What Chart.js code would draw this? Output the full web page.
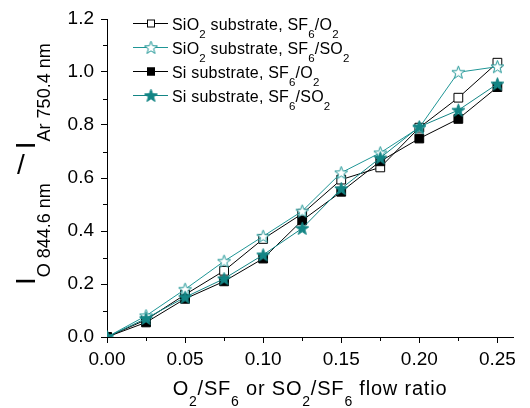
<!DOCTYPE html>
<html><head><meta charset="utf-8">
<script src="https://cdn.jsdelivr.net/npm/chart.js@4.4.1/dist/chart.umd.min.js"></script>
<style>html,body{margin:0;padding:0;background:#fff}canvas{display:block}</style>
</head><body>
<canvas id="c" width="530" height="408" style="width:530px;height:408px"></canvas>
<script>
// ---- data ----
const flowRatio = [0, 0.025, 0.05, 0.075, 0.1, 0.125, 0.15, 0.175, 0.2, 0.225, 0.25];
const sio2_SF6_O2  = [0, 0.065, 0.16, 0.25, 0.37, 0.465, 0.594, 0.64, 0.79, 0.903, 1.035];
const sio2_SF6_SO2 = [0, 0.08, 0.18, 0.286, 0.38, 0.475, 0.62, 0.695, 0.79, 0.999, 1.02];
const si_SF6_O2    = [0, 0.055, 0.144, 0.21, 0.296, 0.44, 0.548, 0.663, 0.749, 0.823, 0.943];
const si_SF6_SO2   = [0, 0.07, 0.15, 0.22, 0.31, 0.41, 0.56, 0.676, 0.793, 0.856, 0.955];
const xMajorTicks = [0, 0.05, 0.10, 0.15, 0.20, 0.25];
const xMinorTicks = [0.025, 0.075, 0.125, 0.175, 0.225];
const yMajorTicks = [0, 0.2, 0.4, 0.6, 0.8, 1.0, 1.2];
const yMinorTicks = [0.1, 0.3, 0.5, 0.7, 0.9, 1.1];

const FONT = '"Liberation Sans", Arial, Helvetica, sans-serif';
const TEAL_OPEN = '#1f9696';
const TEAL_FILL = '#138585';

function makeStar(fill, stroke) {
  const s = 15, c = document.createElement('canvas');
  c.width = s; c.height = s;
  const g = c.getContext('2d');
  const cx = s / 2, cy = s / 2 + 0.5, ro = 6.8, ri = 2.8;
  g.beginPath();
  for (let i = 0; i < 10; i++) {
    const r = i % 2 ? ri : ro;
    const a = -Math.PI / 2 + i * Math.PI / 5;
    const px = cx + r * Math.cos(a), py = cy + r * Math.sin(a);
    i ? g.lineTo(px, py) : g.moveTo(px, py);
  }
  g.closePath();
  g.fillStyle = fill; g.fill();
  g.lineWidth = 1; g.strokeStyle = stroke; g.stroke();
  return c;
}
const openStar = makeStar('#ffffff', TEAL_OPEN);
const fillStar = makeStar(TEAL_FILL, TEAL_FILL);

function pts(arr) { return flowRatio.map((x, i) => ({x: x, y: arr[i]})); }

// rich text: parts [{t, sub}]
function drawRich(ctx, parts, x, y, mainPx, subPx, subDrop, spacing) {
  let cx = x;
  for (const p of parts) {
    ctx.font = (p.sub ? subPx : mainPx) + 'px ' + FONT;
    ctx.letterSpacing = (spacing || 0) + 'px';
    ctx.fillText(p.t, cx, y + (p.sub ? subDrop : 0));
    cx += ctx.measureText(p.t).width;
  }
  return cx - x;
}
function richWidth(ctx, parts, mainPx, subPx, spacing) {
  let w = 0;
  for (const p of parts) {
    ctx.font = (p.sub ? subPx : mainPx) + 'px ' + FONT;
    ctx.letterSpacing = (spacing || 0) + 'px';
    w += ctx.measureText(p.t).width;
  }
  return w;
}

const legendItems = [
  {color: '#000', marker: 'openSq', parts: [{t: 'SiO'}, {t: '2', sub: 1}, {t: ' substrate, SF'}, {t: '6', sub: 1}, {t: '/O'}, {t: '2', sub: 1}]},
  {color: TEAL_OPEN, marker: 'openStar', parts: [{t: 'SiO'}, {t: '2', sub: 1}, {t: ' substrate, SF'}, {t: '6', sub: 1}, {t: '/SO'}, {t: '2', sub: 1}]},
  {color: '#000', marker: 'fillSq', parts: [{t: 'Si substrate, SF'}, {t: '6', sub: 1}, {t: '/O'}, {t: '2', sub: 1}]},
  {color: TEAL_FILL, marker: 'fillStar', parts: [{t: 'Si substrate, SF'}, {t: '6', sub: 1}, {t: '/SO'}, {t: '2', sub: 1}]}
];

const decor = {
  id: 'decor',
  afterDraw(chart) {
    const ctx = chart.ctx, xs = chart.scales.x, ys = chart.scales.y;
    const ca = chart.chartArea;
    ctx.save();
    // minor ticks
    ctx.strokeStyle = '#000'; ctx.lineWidth = 1;
    ctx.beginPath();
    for (const v of xMinorTicks) {
      const px = Math.round(xs.getPixelForValue(v)) + 0.5;
      ctx.moveTo(px, ca.bottom); ctx.lineTo(px, ca.bottom + 4);
    }
    for (const v of yMinorTicks) {
      const py = Math.round(ys.getPixelForValue(v)) + 0.5;
      ctx.moveTo(ca.left, py); ctx.lineTo(ca.left - 4, py);
    }
    ctx.stroke();

    ctx.fillStyle = '#000';
    ctx.textBaseline = 'alphabetic';
    ctx.textAlign = 'left';
    // x title
    const xt = [{t: 'O'}, {t: '2', sub: 1}, {t: '/SF'}, {t: '6', sub: 1}, {t: ' or SO'}, {t: '2', sub: 1}, {t: '/SF'}, {t: '6', sub: 1}, {t: ' flow ratio'}];
    const xw = richWidth(ctx, xt, 20, 14, 0.8);
    drawRich(ctx, xt, (ca.left + ca.right) / 2 - xw / 2, 395, 20, 14, 11, 0.8);

    // y title (rotated)
    ctx.save();
    ctx.translate(35, 285);
    ctx.rotate(-Math.PI / 2);
    let off = drawRich(ctx, [{t: 'I'}, {t: 'O 844.6 nm', sub: 1}], 0, 0, 28, 18, 15, 0);
    off += 20;
    drawRich(ctx, [{t: 'I'}, {t: 'Ar 750.4 nm', sub: 1}], off + 14, 0, 28, 18, 15, 0);
    ctx.restore();
    // slash (upright)
    ctx.font = '28px ' + FONT;
    ctx.letterSpacing = '0px';
    ctx.textAlign = 'center';
    ctx.fillText('/', 21, 174);
    ctx.textAlign = 'left';

    // legend
    legendItems.forEach((it, i) => {
      const ly = 23 + 24 * i, bl = 29.5 + 24 * i;
      ctx.strokeStyle = it.color; ctx.lineWidth = 1;
      ctx.beginPath(); ctx.moveTo(133, ly + 0.5); ctx.lineTo(168, ly + 0.5); ctx.stroke();
      const mx = 151;
      if (it.marker === 'openSq' || it.marker === 'fillSq') {
        ctx.fillStyle = it.marker === 'openSq' ? '#fff' : '#000';
        ctx.fillRect(mx - 4, ly - 3.5, 8, 8);
        ctx.strokeStyle = '#000';
        ctx.strokeRect(mx - 3.5, ly - 3, 7, 7);
      } else {
        ctx.drawImage(it.marker === 'openStar' ? openStar : fillStar, mx - 7.5, ly - 7);
      }
      ctx.fillStyle = '#000';
      drawRich(ctx, it.parts, 172, bl, 16, 11.5, 8, 0.2);
    });
    ctx.restore();
  }
};

Chart.defaults.font.family = FONT;
Chart.defaults.color = '#000';

new Chart(document.getElementById('c'), {
  type: 'line',
  data: {
    datasets: [
      {label: 'Si substrate, SF6/SO2', data: pts(si_SF6_SO2), order: 0, borderColor: TEAL_FILL, pointStyle: fillStar},
      {label: 'SiO2 substrate, SF6/SO2', data: pts(sio2_SF6_SO2), order: 1, borderColor: TEAL_OPEN, pointStyle: openStar},
      {label: 'Si substrate, SF6/O2', data: pts(si_SF6_O2), order: 2, borderColor: '#000', pointStyle: 'rect', pointBackgroundColor: '#000', pointBorderColor: '#000', pointRadius: 6.2},
      {label: 'SiO2 substrate, SF6/O2', data: pts(sio2_SF6_O2), order: 3, borderColor: '#000', pointStyle: 'rect', pointBackgroundColor: '#fff', pointBorderColor: '#000', pointRadius: 6.2}
    ].map(d => Object.assign({borderWidth: 1, tension: 0, fill: false, pointBorderWidth: 1, pointRadius: 7, pointHoverRadius: 7}, d))
  },
  options: {
    responsive: false,
    animation: false,
    devicePixelRatio: 1,
    layout: {padding: {top: 19, right: 17, left: 0, bottom: 0}},
    plugins: {legend: {display: false}, tooltip: {enabled: false}, title: {display: false}},
    scales: {
      x: {
        type: 'linear', min: 0, max: 0.26,
        afterBuildTicks: s => { s.ticks = xMajorTicks.map(v => ({value: v})); },
        afterFit: s => { s.height = 71; },
        ticks: {callback: v => Number(v).toFixed(2), font: {size: 19}, color: '#000', padding: 5, maxRotation: 0, autoSkip: false},
        grid: {drawOnChartArea: false, drawTicks: true, tickLength: 6, tickColor: '#000', tickWidth: 1},
        border: {display: true, color: '#000', width: 1}
      },
      y: {
        type: 'linear', min: 0, max: 1.2,
        afterBuildTicks: s => { s.ticks = yMajorTicks.map(v => ({value: v})); },
        afterFit: s => { s.width = 107; },
        ticks: {callback: v => Number(v).toFixed(1), font: {size: 19}, color: '#000', padding: 7, autoSkip: false},
        grid: {drawOnChartArea: false, drawTicks: true, tickLength: 6, tickColor: '#000', tickWidth: 1},
        border: {display: true, color: '#000', width: 1}
      }
    }
  },
  plugins: [decor]
});
</script>
</body></html>
